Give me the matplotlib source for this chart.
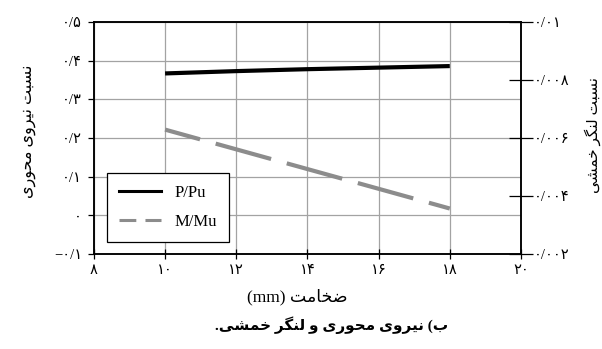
import matplotlib
matplotlib.use("Agg")
import matplotlib.pyplot as plt
from matplotlib.lines import Line2D

# ---- data ----
thickness = [10, 12, 14, 16, 18]                       # mm
p_ratio = [0.367, 0.373, 0.378, 0.382, 0.386]          # P/Pu  (left axis)
m_ratio = [0.00629, 0.00561, 0.00493, 0.00425, 0.00357]  # M/Mu (right axis)

x_ticks = [8, 10, 12, 14, 16, 18, 20]
x_ticklabels = ["۸", "۱۰", "۱۲", "۱۴", "۱۶", "۱۸", "۲۰"]
left_ticks = [-0.1, 0.0, 0.1, 0.2, 0.3, 0.4, 0.5]
left_ticklabels = ["−۰/۱", "۰", "۰/۱", "۰/۲", "۰/۳", "۰/۴", "۰/۵"]
right_ticks = [0.002, 0.004, 0.006, 0.008, 0.010]
right_ticklabels = ["۰/۰۰۲", "۰/۰۰۴", "۰/۰۰۶", "۰/۰۰۸", "۰/۰۱"]

series_labels = ["P/Pu", "M/Mu"]
x_label = "ضخامت (mm)"
left_label = "نسبت نیروی محوری"
right_label = "نسبت لنگر خمشی"
caption = "ب) نیروی محوری و لنگر خمشی."

# ---- minimal Persian shaping (matplotlib has no RTL/joining support) ----
FORMS = {  # isolated, final, initial, medial
    "ا": ("\uFE8D", "\uFE8E", None, None),
    "ب": ("\uFE8F", "\uFE90", "\uFE91", "\uFE92"),
    "ت": ("\uFE95", "\uFE96", "\uFE97", "\uFE98"),
    "ح": ("\uFEA1", "\uFEA2", "\uFEA3", "\uFEA4"),
    "خ": ("\uFEA5", "\uFEA6", "\uFEA7", "\uFEA8"),
    "ر": ("\uFEAD", "\uFEAE", None, None),
    "س": ("\uFEB1", "\uFEB2", "\uFEB3", "\uFEB4"),
    "ش": ("\uFEB5", "\uFEB6", "\uFEB7", "\uFEB8"),
    "ض": ("\uFEBD", "\uFEBE", "\uFEBF", "\uFEC0"),
    "ل": ("\uFEDD", "\uFEDE", "\uFEDF", "\uFEE0"),
    "م": ("\uFEE1", "\uFEE2", "\uFEE3", "\uFEE4"),
    "ن": ("\uFEE5", "\uFEE6", "\uFEE7", "\uFEE8"),
    "و": ("\uFEED", "\uFEEE", None, None),
    "ی": ("\uFBFC", "\uFBFD", "\uFBFE", "\uFBFF"),
    "گ": ("\uFB92", "\uFB93", "\uFB94", "\uFB95"),
}
MIRROR = {"(": ")", ")": "("}


def joins_left(ch):
    return ch in FORMS and FORMS[ch][2] is not None


def shape_word(word):
    out = []
    for i, ch in enumerate(word):
        if ch not in FORMS:
            out.append(MIRROR.get(ch, ch))
            continue
        prev_j = i > 0 and joins_left(word[i - 1])
        next_j = joins_left(ch) and i + 1 < len(word) and word[i + 1] in FORMS
        iso, fin, ini, med = FORMS[ch]
        if prev_j and next_j:
            out.append(med)
        elif prev_j:
            out.append(fin)
        elif next_j:
            out.append(ini)
        else:
            out.append(iso)
    return "".join(reversed(out))


def rtl(text):
    words = text.split(" ")
    shaped = [shape_word(w) if any(c in FORMS for c in w) else w for w in words]
    return " ".join(reversed(shaped))


# ---- figure ----
FAM = ["Liberation Serif", "DejaVu Sans"]
plt.rcParams["font.family"] = FAM

fig = plt.figure(figsize=(6.02, 3.49), dpi=100)
ax = fig.add_axes([0.156, 0.272, 0.7094, 0.665])
ax2 = ax.twinx()

grid_c = "#a3a3a3"
ax.set_xlim(8, 20)
ax.set_ylim(-0.1, 0.5)
ax2.set_ylim(0.002, 0.010)

ax.set_xticks(x_ticks)
ax.set_xticklabels(x_ticklabels, family=FAM, fontsize=10.5)
ax.set_yticks(left_ticks)
ax.set_yticklabels(left_ticklabels, family=FAM, fontsize=10.5)
ax2.set_yticks(right_ticks)
ax2.set_yticklabels(right_ticklabels, family=FAM, fontsize=10.5)

ax.grid(True, color=grid_c, linewidth=0.9)
ax.set_axisbelow(True)

ax.tick_params(axis="x", direction="inout", length=7, width=0.9, pad=4)
ax.tick_params(axis="y", direction="out", length=4.5, width=0.9, pad=4)
ax2.tick_params(axis="y", direction="inout", length=17, width=0.9, pad=1)

for a in (ax, ax2):
    for s in a.spines.values():
        s.set_linewidth(1.1)

line_p, = ax.plot(thickness, p_ratio, color="black", linewidth=3.0,
                  solid_capstyle="butt")
gray = "#8c8c8c"
line_m, = ax2.plot(thickness, m_ratio, color=gray, linewidth=3.0,
                   linestyle=(5.1, (13.8, 3.9)), dash_capstyle="butt")

handles = [
    Line2D([], [], color="black", linewidth=2.2),
    Line2D([], [], color=gray, linewidth=2.2, linestyle=(0, (5.5, 3.0))),
]
leg = ax2.legend(handles, series_labels, loc="lower left",
                 bbox_to_anchor=(0.03, 0.052), borderaxespad=0,
                 prop={"family": "Liberation Serif", "size": 12},
                 frameon=True, fancybox=False, handlelength=2.5,
                 handletextpad=0.8, borderpad=0.75, labelspacing=0.75)
leg.get_frame().set_edgecolor("black")
leg.get_frame().set_linewidth(0.9)
leg.get_frame().set_alpha(1)

# axis titles and caption
fig.text(28 / 602, 1 - 131 / 349, rtl(left_label), rotation=90,
         ha="center", va="center", fontsize=11.5, family=FAM)
fig.text(593 / 602, 1 - 135 / 349, rtl(right_label), rotation=90,
         ha="center", va="center", fontsize=11, family=FAM)
fig.text(297 / 602, 1 - 297 / 349, rtl(x_label),
         ha="center", va="center", fontsize=12.5, family=FAM)
fig.text(332 / 602, 1 - 325 / 349, rtl(caption),
         ha="center", va="center", fontsize=11, fontweight="bold", family=FAM)

fig.savefig("out.png", dpi=100)
